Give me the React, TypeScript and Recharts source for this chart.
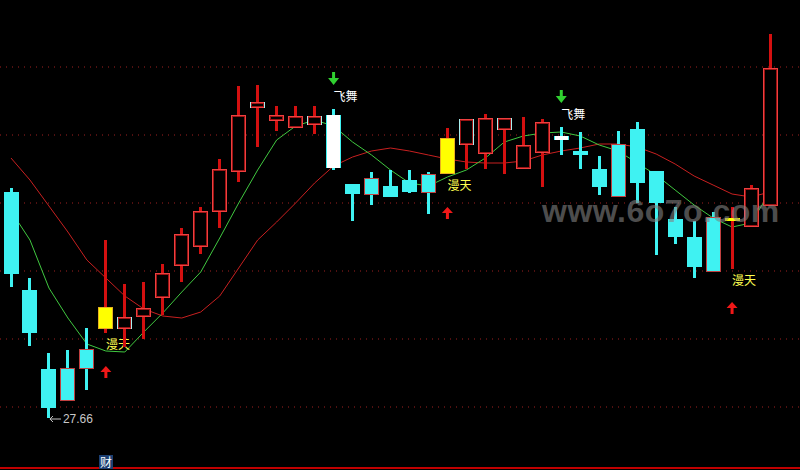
import React from 'react';
import { ComposedChart, Bar, Line, XAxis, YAxis, ReferenceLine } from 'recharts';

const days = [
  'D01', 'D02', 'D03', 'D04', 'D05', 'D06', 'D07', 'D08', 'D09', 'D10',
  'D11', 'D12', 'D13', 'D14', 'D15', 'D16', 'D17', 'D18', 'D19', 'D20',
  'D21', 'D22', 'D23', 'D24', 'D25', 'D26', 'D27', 'D28', 'D29', 'D30',
  'D31', 'D32', 'D33', 'D34', 'D35', 'D36', 'D37', 'D38', 'D39', 'D40', 'D41',
];

const opens = [
  32.18, 30.22, 28.64, 28.66, 29.04, 29.44, 29.44, 29.68, 30.06, 30.70,
  31.08, 31.78, 32.58, 33.86, 33.60, 33.46, 33.52, 33.72, 32.34, 32.46,
  32.30, 32.42, 32.54, 32.54, 33.12, 32.94, 33.42, 32.64, 32.96, 33.30,
  33.00, 32.64, 33.14, 33.44, 32.60, 31.64, 31.28, 31.68, 31.62, 31.48, 31.90,
];
const highs = [
  32.26, 30.46, 28.96, 29.02, 29.46, 31.22, 30.34, 30.38, 30.74, 31.46,
  31.88, 32.84, 34.30, 34.32, 33.90, 33.90, 33.90, 33.84, 32.34, 32.58,
  32.62, 32.62, 32.58, 33.46, 33.64, 33.74, 33.66, 33.68, 33.64, 33.48,
  33.38, 32.90, 33.40, 33.58, 32.60, 31.88, 31.60, 31.78, 31.88, 32.32, 35.34,
];
const lows = [
  30.28, 29.10, 27.66, 28.00, 28.22, 29.36, 29.08, 29.24, 29.72, 30.38,
  30.94, 31.46, 32.38, 33.08, 33.40, 33.46, 33.34, 32.62, 31.60, 31.92,
  32.08, 32.16, 31.74, 32.54, 32.64, 32.64, 32.54, 32.64, 32.28, 32.92,
  32.64, 32.12, 32.08, 31.96, 30.92, 31.14, 30.46, 30.58, 30.64, 31.48, 31.90,
];
const closes = [
  30.54, 29.36, 27.86, 28.00, 28.64, 29.88, 29.68, 29.86, 30.56, 31.34,
  31.80, 32.64, 33.72, 33.98, 33.72, 33.70, 33.70, 32.66, 32.14, 32.12,
  32.08, 32.18, 32.16, 33.26, 33.64, 33.66, 33.66, 33.12, 33.58, 33.22,
  32.92, 32.28, 32.08, 32.36, 31.96, 31.28, 30.68, 30.58, 31.66, 32.26, 34.66,
];
const maShort = [
  31.80, 31.22, 30.26, 29.66, 29.14, 29.00, 28.98, 29.38, 29.76, 30.18,
  30.58, 31.26, 31.96, 32.62, 33.22, 33.50, 33.62, 33.50, 33.18, 32.92,
  32.62, 32.36, 32.30, 32.48, 32.62, 32.86, 33.18, 33.30, 33.36, 33.38,
  33.30, 33.12, 33.00, 32.76, 32.52, 32.22, 31.92, 31.66, 31.48, 31.56, 32.18,
];
const maLong = [
  32.86, 32.42, 31.90, 31.38, 30.82, 30.46, 30.10, 29.84, 29.70, 29.66,
  29.78, 30.10, 30.66, 31.22, 31.58, 31.96, 32.36, 32.70, 32.88, 33.00,
  33.06, 33.00, 32.92, 32.84, 32.78, 32.76, 32.76, 32.80, 32.92, 33.00,
  33.06, 33.14, 33.14, 33.08, 32.94, 32.74, 32.50, 32.32, 32.14, 32.08, 32.18,
];
// days where the close-vs-previous-close colour differs from the candle colour
const crossDays = [3, 4, 6, 13, 16, 19, 22, 24, 26, 32, 37];
const manTianDays = [5, 23, 38];
const feiWuDays = [17, 29];
const gridLevels = [27.88, 29.24, 30.60, 31.96, 33.32, 34.68];
const signalTexts = { up: '漫天', down: '飞舞' };

const data = days.map((day, i) => ({
  day,
  open: opens[i],
  high: highs[i],
  low: lows[i],
  close: closes[i],
  range: [lows[i], highs[i]],
  maShort: maShort[i],
  maLong: maLong[i],
  cross: crossDays.includes(i),
  signal: manTianDays.includes(i) ? 'up' : feiWuDays.includes(i) ? 'down' : null,
}));

const minIdx = lows.indexOf(Math.min(...lows));

const RED = '#ee4040';
const RED_IN = '#9a1414';
const RED_WICK = '#d41010';
const CYAN = '#3ff2f2';
const YELLOW = '#ffff00';
const CJK = '"Noto Sans CJK SC", sans-serif';

function Candle(props: any) {
  const { x, y, width, height, payload, index } = props;
  if (!payload || width == null) return null;
  const top = height >= 0 ? y : y + height;
  const h = Math.abs(height);
  const k = h / (payload.high - payload.low);
  const py = (v: number) => top + (payload.high - v) * k;
  const cx = x + width / 2;
  const up = payload.close >= payload.open;
  let bTop = py(Math.max(payload.open, payload.close));
  let bBot = py(Math.min(payload.open, payload.close));
  if (bBot - bTop < 3) {
    const m = (bTop + bBot) / 2;
    bTop = m - 1.5;
    bBot = m + 1.5;
  }
  const bh = bBot - bTop;
  const highPx = top;
  const lowPx = top + h;
  const wickColor = up ? RED_WICK : CYAN;
  const parts: any[] = [];
  parts.push(
    <rect key="wick" x={cx - 1.5} y={highPx} width={3} height={h} fill={wickColor} shapeRendering="crispEdges" />
  );
  if (payload.signal === 'up') {
    parts.push(
      <rect key="b" x={x} y={bTop} width={width} height={bh} fill={YELLOW} shapeRendering="crispEdges" />
    );
    if (bh > 4) {
      parts.push(
        <rect key="be" x={x + 0.5} y={bTop + 0.5} width={width - 1} height={bh - 1} fill="none" stroke="#e8b020" strokeWidth={1} shapeRendering="crispEdges" />
      );
    }
  } else if (payload.signal === 'down') {
    parts.push(
      <rect key="b" x={x} y={bTop} width={width} height={bh} fill="#ffffff" shapeRendering="crispEdges" />
    );
    parts.push(<rect key="l" x={x} y={bTop} width={1} height={bh} fill={CYAN} shapeRendering="crispEdges" />);
    parts.push(<rect key="r" x={x + width - 1} y={bTop} width={1} height={bh} fill={CYAN} shapeRendering="crispEdges" />);
  } else if (up) {
    parts.push(
      <rect key="b" x={x + 0.5} y={bTop + 0.5} width={width - 1} height={bh - 1} fill="#000" stroke={RED} strokeWidth={1} shapeRendering="crispEdges" />
    );
    if (bh > 4) {
      parts.push(
        <rect key="bi" x={x + 1.5} y={bTop + 1.5} width={width - 3} height={bh - 3} fill="none" stroke={RED_IN} strokeWidth={1} shapeRendering="crispEdges" />
      );
    }
    if (payload.cross) {
      parts.push(<rect key="l" x={x} y={bTop} width={1} height={bh} fill="#a8f0f0" shapeRendering="crispEdges" />);
      parts.push(<rect key="r" x={x + width - 1} y={bTop} width={1} height={bh} fill="#a8f0f0" shapeRendering="crispEdges" />);
    }
  } else {
    parts.push(
      <rect key="b" x={x} y={bTop} width={width} height={bh} fill={CYAN} shapeRendering="crispEdges" />
    );
    if (payload.cross) {
      parts.push(
        <rect key="be" x={x + 0.5} y={bTop + 0.5} width={width - 1} height={bh - 1} fill="none" stroke="#c04040" strokeWidth={1} shapeRendering="crispEdges" />
      );
    }
  }
  if (payload.signal === 'up') {
    const tip = lowPx + 33;
    parts.push(
      <text key="t" x={cx} y={lowPx + 16} fill="#ffff50" fontSize={12} fontFamily={CJK}>{signalTexts.up}</text>
    );
    parts.push(
      <path key="a" d={`M${cx},${tip} L${cx + 5.5},${tip + 6} L${cx + 1.5},${tip + 6} L${cx + 1.5},${tip + 12} L${cx - 1.5},${tip + 12} L${cx - 1.5},${tip + 6} L${cx - 5.5},${tip + 6} Z`} fill="#f01818" />
    );
  } else if (payload.signal === 'down') {
    const tip = highPx - 24;
    parts.push(
      <text key="t" x={cx} y={highPx - 8} fill="#ffffff" fontSize={12} fontFamily={CJK}>{signalTexts.down}</text>
    );
    parts.push(
      <path key="a" d={`M${cx},${tip} L${cx + 5.5},${tip - 7} L${cx + 1.5},${tip - 7} L${cx + 1.5},${tip - 13} L${cx - 1.5},${tip - 13} L${cx - 1.5},${tip - 7} L${cx - 5.5},${tip - 7} Z`} fill="#30d030" />
    );
  }
  if (index === minIdx) {
    const ly = lowPx + 1;
    parts.push(
      <path key="la" d={`M${cx + 1},${ly} L${cx + 12},${ly} M${cx + 1},${ly} L${cx + 4},${ly - 3} M${cx + 1},${ly} L${cx + 4},${ly + 3}`} stroke="#c8c8c8" strokeWidth={1} fill="none" />
    );
    parts.push(
      <text key="lt" x={cx + 14} y={ly + 4} fill="#c8c8c8" fontSize={12} fontFamily='"Liberation Sans", Arial, sans-serif'>{payload.low.toFixed(2)}</text>
    );
  }
  return <g>{parts}</g>;
}

export default function App() {
  return (
    <div style={{ position: 'fixed', left: 0, top: 0, width: 800, height: 470, background: '#000', overflow: 'hidden' }}>
      <ComposedChart width={800} height={470} data={data} margin={{ top: 0, right: 0, bottom: 0, left: 0 }}>
        <XAxis dataKey="day" type="category" hide padding={{ left: 1.5, right: 20.5 }} />
        <YAxis type="number" hide domain={[26.62, 36.02]} allowDataOverflow />
        {gridLevels.map((v) => (
          <ReferenceLine key={v} y={v} stroke="#a02020" strokeDasharray="1 5" strokeWidth={1} zIndex={-50} />
        ))}
        <Line dataKey="maLong" type="linear" stroke="#c82020" strokeWidth={1} dot={false} activeDot={false} isAnimationActive={false} zIndex={100} />
        <Line dataKey="maShort" type="linear" stroke="#40c840" strokeWidth={1} dot={false} activeDot={false} isAnimationActive={false} zIndex={100} />
        <Bar dataKey="range" barSize={15} isAnimationActive={false} activeBar={false} shape={(p: any) => <Candle {...p} />} zIndex={600} />
      </ComposedChart>
      <div style={{ position: 'absolute', left: 0, top: 467, width: 800, height: 2, background: '#c00000' }} />
      <div style={{ position: 'absolute', left: 99, top: 455, width: 14, height: 14, background: '#1c3f72', color: '#fff', fontSize: 12, lineHeight: '14px', textAlign: 'center', fontFamily: CJK }}>财</div>
      <div style={{ position: 'absolute', left: 542, top: 191, color: 'rgba(130,130,130,0.6)', fontSize: 32, fontWeight: 'bold', fontFamily: '"Liberation Sans", Arial, sans-serif', letterSpacing: 0.5, lineHeight: '40px', pointerEvents: 'none', whiteSpace: 'nowrap' }}>www.6o7o.com</div>
    </div>
  );
}
